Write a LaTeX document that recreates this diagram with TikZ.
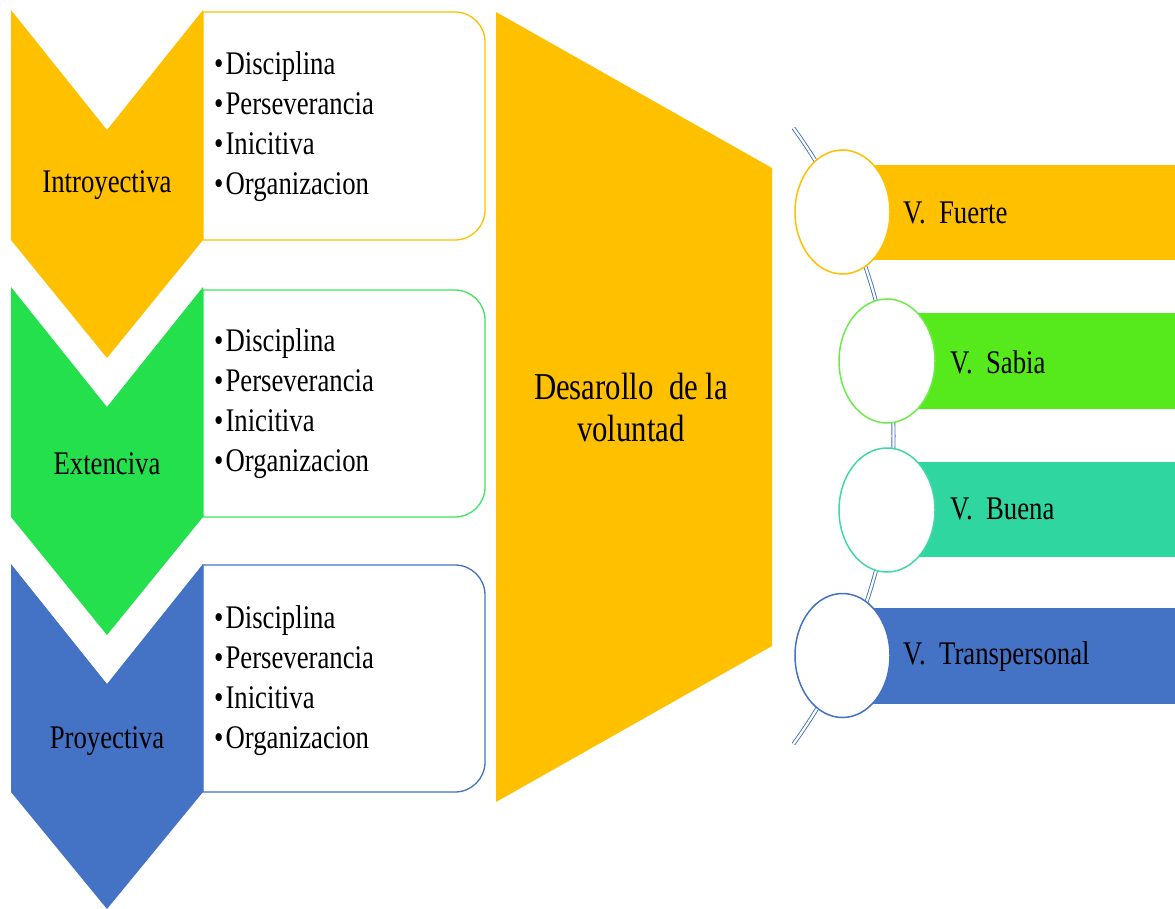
\documentclass[tikz,border=0pt]{standalone}
\usepackage{fontspec}
\setmainfont[FakeStretch=0.81]{Liberation Serif}
\definecolor{cOr}{HTML}{FFC000}
\definecolor{cGr}{HTML}{24E04C}
\definecolor{cBl}{HTML}{4472C4}
\definecolor{cGb}{HTML}{56EA1C}
\definecolor{cTe}{HTML}{2FD6A0}
\definecolor{cGo}{HTML}{3EE65E}
\definecolor{cGc}{HTML}{6CEB4A}
\definecolor{cTc}{HTML}{40D8A4}
\begin{document}
\begin{tikzpicture}[x=1pt,y=-1pt,
  txt/.style={font=\fontsize{33}{40}\selectfont, inner sep=0pt, text=black},
  bigtxt/.style={font=\fontsize{38}{42}\selectfont, inner sep=0pt, align=center, text=black},
  listtxt/.style={txt, align=left, anchor=west},
  boxline/.style={line width=1.3pt, fill=white},
  ring/.style={line width=1.5pt, fill=white},
  chain/.style={draw=cBl, double=white, double distance=2.2pt, line width=0.9pt}
]
\useasboundingbox (0,0) rectangle (1175,909);
\fill[white] (0,0) rectangle (1175,909);

% rounded boxes (left)
\draw[boxline, draw=cOr] (203,12) -- (455,12) arc[start angle=-90,end angle=0,radius=30] -- (485,210) arc[start angle=0,end angle=90,radius=30] -- (203,240) -- cycle;
\draw[boxline, draw=cGo] (203,290) -- (455,290) arc[start angle=-90,end angle=0,radius=30] -- (485,487) arc[start angle=0,end angle=90,radius=30] -- (203,517) -- cycle;
\draw[boxline, draw=cBl] (203,565) -- (455,565) arc[start angle=-90,end angle=0,radius=30] -- (485,762) arc[start angle=0,end angle=90,radius=30] -- (203,792) -- cycle;

% chevrons
\fill[cOr] (11,10) -- (107,130) -- (203,10) -- (203,240) -- (107,358) -- (11,240) -- cycle;
\fill[cGr] (11,287) -- (107,407) -- (203,287) -- (203,517) -- (107,635) -- (11,517) -- cycle;
\fill[cBl] (11,564) -- (107,684) -- (203,564) -- (203,792) -- (107,909) -- (11,792) -- cycle;

\node[txt] (intro) at (107,185) {Introyectiva};
\node[txt] (exten) at (107,464) {Extenciva};
\node[txt] (proy) at (107,741) {Proyectiva};

\node[listtxt] (l1) at (214,127) {\textbullet\hspace{2pt}Disciplina\\\textbullet\hspace{2pt}Perseverancia\\\textbullet\hspace{2pt}Inicitiva\\\textbullet\hspace{2pt}Organizacion};
\node[listtxt] (l2) at (214,404) {\textbullet\hspace{2pt}Disciplina\\\textbullet\hspace{2pt}Perseverancia\\\textbullet\hspace{2pt}Inicitiva\\\textbullet\hspace{2pt}Organizacion};
\node[listtxt] (l3) at (214,681) {\textbullet\hspace{2pt}Disciplina\\\textbullet\hspace{2pt}Perseverancia\\\textbullet\hspace{2pt}Inicitiva\\\textbullet\hspace{2pt}Organizacion};

% trapezoid
\fill[cOr] (496,12) -- (772,168) -- (772,646) -- (496,802) -- cycle;
\node[bigtxt] (dv) at (631,408) {Desarollo~ de la\\voluntad};

% chain arc
\draw[chain] (369.5,436) ++(-36:524) arc[start angle=-36,end angle=36,radius=524];

% bars
\fill[cOr] (842,165) rectangle (1175,260);
\fill[cGb] (887,313) rectangle (1175,409);
\fill[cTe] (887,462) rectangle (1175,557);
\fill[cBl] (842,608) rectangle (1175,704);

% circles
\draw[ring, draw=cOr] (842.5,212) ellipse [x radius=47.5, y radius=62];
\draw[ring, draw=cGc] (887,361) ellipse [x radius=48, y radius=62];
\draw[ring, draw=cTc] (887,510) ellipse [x radius=48, y radius=62];
\draw[ring, draw=cBl] (842.5,655.5) ellipse [x radius=47.5, y radius=62];

\node[txt, anchor=west] (vf) at (903,213) {V.~ Fuerte};
\node[txt, anchor=west] (vs) at (950,362) {V.~ Sabia};
\node[txt, anchor=west] (vb) at (950,509) {V.~ Buena};
\node[txt, anchor=west] (vt) at (903,657) {V.~ Transpersonal};
\end{tikzpicture}
\end{document}
